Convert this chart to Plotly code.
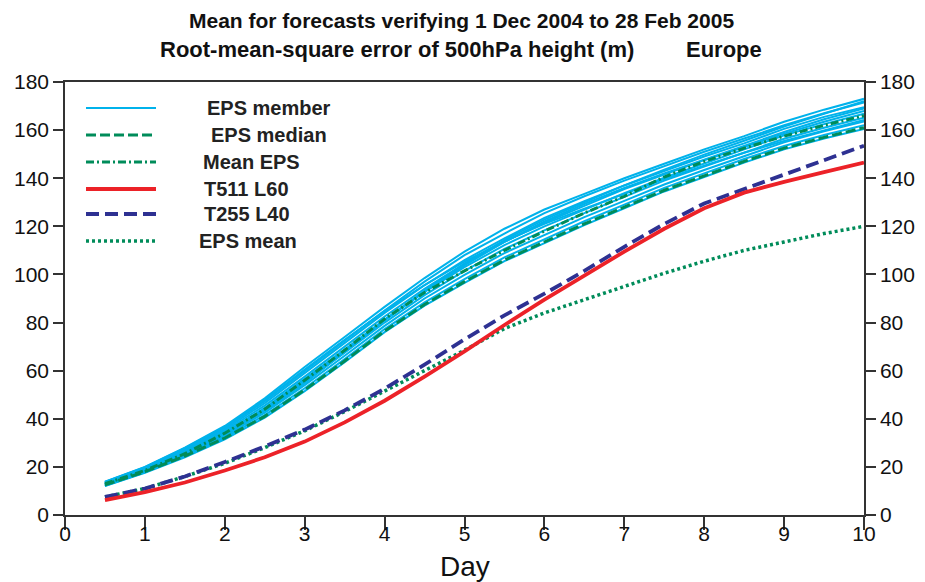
import plotly.graph_objects as go

days = [0.5, 1, 1.5, 2, 2.5, 3, 3.5, 4, 4.5, 5, 5.5, 6, 6.5, 7, 7.5, 8, 8.5, 9, 9.5, 10]

t511_l60 = [6.2, 9.5, 13.5, 18.5, 24, 30.5, 38.5, 47.5, 57.5, 68, 79, 89.5, 99.5, 109.5, 119, 127.5, 134, 138.5, 142.5, 146.5]
t255_l40 = [7.5, 11, 16, 22, 28.5, 35.5, 43.5, 52.5, 62.5, 73, 83, 92, 101.5, 111.5, 121, 129.5, 135.5, 141.5, 147.5, 153.5]
eps_mean = [7.5, 11, 16, 21.5, 28, 35, 43, 51.5, 60, 68.5, 77.5, 84, 89.5, 95, 100.5, 105.5, 110, 113.5, 117, 120]
mean_eps = [13, 18.5, 25.5, 34, 44, 56, 68.5, 81.5, 92.5, 101.5, 110, 118, 125.5, 132.5, 140.5, 147, 152.5, 157.5, 162, 166]
eps_median = [12.5, 18, 24.5, 32, 41, 52, 64, 76.5, 87.5, 97, 106, 113.5, 121, 128, 135, 141, 147, 152.5, 157, 161]

eps_members = [
    [13.8, 20, 28, 37, 48.5, 61.5, 74, 86.5, 98.5, 109.5, 119, 127, 133.5, 140, 146, 152, 157.5, 163.5, 168.5, 173],
    [13.6, 19.7, 27.5, 36.2, 47.3, 60, 72.5, 85, 97, 108, 117, 125.5, 132.5, 139, 145, 151, 156.5, 162, 167, 171.5],
    [13.4, 19.4, 27, 35.6, 46.5, 59, 71.5, 84, 95.5, 106, 115, 123.5, 130.5, 137, 143, 149, 154.5, 160.5, 165.5, 169.5],
    [13.1, 19, 26.5, 35, 45.5, 57.5, 70, 82.5, 94, 104.5, 113.5, 121.5, 128.5, 135.5, 141.5, 147.5, 153, 158.5, 163.5, 168],
    [12.9, 18.8, 26, 34.3, 44.5, 56.5, 68.8, 81.2, 92.7, 103, 112.2, 120, 127, 133.8, 140.2, 146.2, 152, 157.8, 162.5, 166.8],
    [12.7, 18.5, 25.5, 33.6, 43.5, 55.3, 67.5, 80, 91.4, 101.5, 110.6, 118.3, 125.5, 132.3, 139, 144.9, 150.7, 156.4, 161, 165.2],
    [12.5, 18.2, 25, 33, 42.5, 54, 66.2, 78.6, 90, 99.8, 108.9, 116.5, 123.8, 130.6, 137.4, 143.4, 149.2, 154.9, 159.5, 163.6],
    [12.2, 17.8, 24.5, 32.2, 41.5, 52.7, 64.8, 77.3, 88.4, 98.1, 107.1, 114.7, 122.1, 129, 136, 142, 148, 153.4, 158, 162],
    [12, 17.5, 24, 31.5, 40.5, 51.5, 63.5, 76, 87, 96.5, 105.5, 113, 120.5, 127.5, 134.5, 140.5, 146.5, 152, 156.5, 160.5],
    [12.1, 17.7, 24.6, 32.8, 42.8, 54.8, 67.8, 81, 93.2, 104.5, 114.3, 122.8, 130, 137, 143.6, 149.8, 155.6, 161.5, 166.8, 172],
    [13.7, 19.9, 27.8, 36.6, 47.8, 60.5, 72.8, 84.8, 95.6, 105.3, 113.8, 121, 127.3, 133.5, 139.6, 145.2, 150.6, 155.5, 160, 164.2],
    [12.8, 18.6, 25.8, 34, 44, 56, 68.5, 81, 92.8, 103.8, 113.5, 122, 129.3, 136, 142, 147.8, 153.4, 159.2, 164.5, 169],
]

y_ticks = [0, 20, 40, 60, 80, 100, 120, 140, 160, 180]
x_ticks = [0, 1, 2, 3, 4, 5, 6, 7, 8, 9, 10]

legend_labels = ["EPS member", "EPS median", "Mean EPS", "T511 L60", "T255 L40", "EPS mean"]

CYAN = "rgb(0,178,235)"
GREEN = "rgb(0,140,90)"
RED = "rgb(236,34,40)"
BLUE = "rgb(46,49,146)"

styles = [
    dict(color=CYAN, width=2, dash="solid"),
    dict(color=GREEN, width=3, dash="10px,4px"),
    dict(color=GREEN, width=3, dash="8px,3px,2px,3px"),
    dict(color=RED, width=3.8, dash="solid"),
    dict(color=BLUE, width=3.8, dash="13px,6px"),
    dict(color=GREEN, width=3.5, dash="3px,3px"),
]

fig = go.Figure()
for m in eps_members:
    fig.add_trace(go.Scatter(x=days, y=m, mode="lines", line=styles[0], showlegend=False, hoverinfo="skip"))
fig.add_trace(go.Scatter(x=days, y=eps_median, mode="lines", line=styles[1], showlegend=False))
fig.add_trace(go.Scatter(x=days, y=mean_eps, mode="lines", line=styles[2], showlegend=False))
fig.add_trace(go.Scatter(x=days, y=eps_mean, mode="lines", line=styles[5], showlegend=False))
fig.add_trace(go.Scatter(x=days, y=t255_l40, mode="lines", line=styles[4], showlegend=False))
fig.add_trace(go.Scatter(x=days, y=t511_l60, mode="lines", line=styles[3], showlegend=False))
# invisible trace for right axis
fig.add_trace(go.Scatter(x=[days[0]], y=[t511_l60[0]], yaxis="y2", mode="lines",
                         line=dict(width=0), showlegend=False, hoverinfo="skip"))

# page has an 8px body margin; size the figure to fit the 925x582 window
OFF = 8
W, H = 925 - OFF, 582 - OFF
L, R, T, B = 57, 61, 74, 67
pw, ph = W - L - R, H - T - B

def px_x(px):
    return (px - OFF - L) / pw

def px_y(py):
    return (H - B - (py - OFF)) / ph

FONT = "Liberation Sans, Arial"
legend_rows_y = [108, 135, 162, 189, 214, 241]
legend_text_x = [205, 209, 201, 202, 202, 197]
shapes = []
annotations = []
for lab, st, yy, tx in zip(legend_labels, styles, legend_rows_y, legend_text_x):
    lw = 2 if st["width"] < 2 else st["width"]
    shapes.append(dict(type="line", xref="paper", yref="paper",
                       x0=px_x(86), x1=px_x(156), y0=px_y(yy), y1=px_y(yy),
                       line=dict(color=st["color"], width=lw, dash=st["dash"])))
    annotations.append(dict(xref="paper", yref="paper", x=px_x(tx), y=px_y(yy),
                            xanchor="left", yanchor="middle", showarrow=False,
                            text="<b>%s</b>" % lab,
                            font=dict(family=FONT, size=20, color="#222")))

annotations.append(dict(xref="paper", yref="paper", x=px_x(461), y=px_y(OFF),
                        xanchor="center", yanchor="top", showarrow=False, borderpad=0,
                        text="<b>Mean for forecasts verifying 1 Dec 2004 to 28 Feb 2005</b>",
                        font=dict(family=FONT, size=21, color="#111")))
annotations.append(dict(xref="paper", yref="paper", x=px_x(158), y=px_y(49),
                        xanchor="left", yanchor="middle", showarrow=False,
                        text="<b>Root-mean-square error of 500hPa height (m)</b>",
                        font=dict(family=FONT, size=22, color="#111")))
annotations.append(dict(xref="paper", yref="paper", x=px_x(684), y=px_y(49),
                        xanchor="left", yanchor="middle", showarrow=False,
                        text="<b>Europe</b>",
                        font=dict(family=FONT, size=22, color="#111")))
annotations.append(dict(xref="paper", yref="paper", x=px_x(465), y=px_y(566),
                        xanchor="center", yanchor="middle", showarrow=False,
                        text="Day",
                        font=dict(family=FONT, size=28, color="#111")))

tick_font = dict(family="Liberation Sans Narrow, Liberation Sans, Arial", size=21, color="#111")
axis_common = dict(showgrid=False, zeroline=False, showline=True, linecolor="#333", linewidth=1.5,
                   ticks="outside", tickcolor="#333", tickwidth=1.5, tickfont=tick_font,
                   automargin=False)

fig.update_layout(
    width=W, height=H,
    margin=dict(l=L, r=R, t=T, b=B, pad=0),
    paper_bgcolor="white", plot_bgcolor="white",
    showlegend=False,
    shapes=shapes, annotations=annotations,
    xaxis=dict(range=[0, 10], tickvals=x_ticks, ticktext=[str(v) for v in x_ticks],
               ticklen=13, mirror=True, ticklabelstandoff=-14, **axis_common),
    yaxis=dict(range=[0, 180], tickvals=y_ticks, ticklen=10, **axis_common),
    yaxis2=dict(range=[0, 180], tickvals=y_ticks, ticklen=10, overlaying="y", side="right", **axis_common),
)

fig.write_html("out.html")
